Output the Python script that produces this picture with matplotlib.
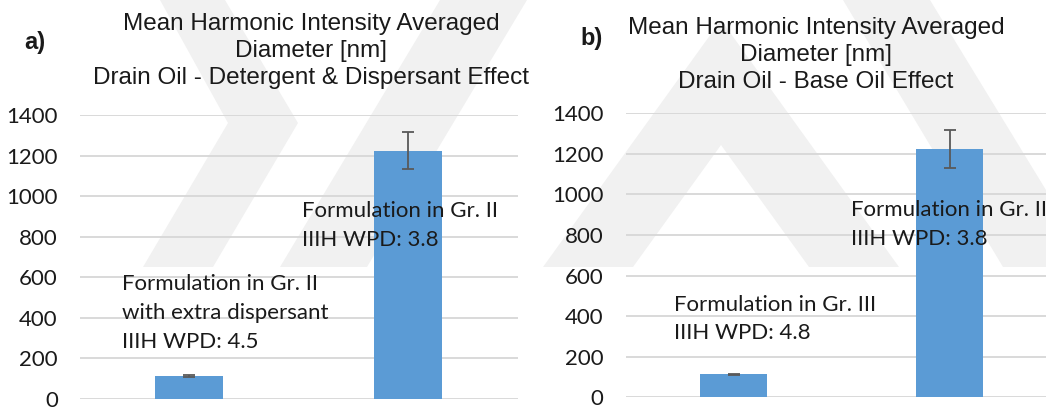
import matplotlib
matplotlib.use("Agg")
import matplotlib.pyplot as plt
from matplotlib.patches import Polygon

# data
categories = ["A", "B"]
left_vals = [115, 1226]
left_err = [5, 93]
right_vals = [113, 1223]
right_err = [4, 94]
left_labels = ["Formulation in Gr. II\nwith extra dispersant\nIIIH WPD: 4.5",
               "Formulation in Gr. II\nIIIH WPD: 3.8"]
right_labels = ["Formulation in Gr. III\nIIIH WPD: 4.8",
                "Formulation in Gr. II\nIIIH WPD: 3.8"]
left_label_pos = [(-0.307, 425), (0.516, 857)]
right_label_pos = [(-0.275, 386), (0.543, 852)]
left_title = "Mean Harmonic Intensity Averaged\nDiameter [nm]\nDrain Oil - Detergent & Dispersant Effect"
right_title = "Mean Harmonic Intensity Averaged\nDiameter [nm]\nDrain Oil - Base Oil Effect"
yticks = [0, 200, 400, 600, 800, 1000, 1200, 1400]

W, H = 1046, 407
fig = plt.figure(figsize=(W / 100, H / 100), dpi=100)

# faint background watermark (pixel coords -> figure fraction)
wm = [
    [(160, 0), (225, 0), (298, 123), (213, 267), (143, 267), (228, 123)],
    [(280, 267), (367, 267), (527, 0), (440, 0)],
    [(543, 267), (633, 267), (721, 145), (809, 267), (899, 267), (721, 20)],
    [(843, 0), (930, 0), (1093, 267), (1003, 267)],
]
for pts in wm:
    fig.patches.append(Polygon([(x / W, 1 - y / H) for x, y in pts], closed=True,
                               transform=fig.transFigure, facecolor="#f1f1f1",
                               edgecolor="none", zorder=-5))

tick_font = "Lato"
txt_col = "#1a1a1a"


def panel(rect, vals, errs, labels, label_pos):
    ax = fig.add_axes(rect)
    ax.patch.set_visible(False)
    x = range(len(categories))
    ax.bar(x, vals, width=0.31, color="#5b9bd5", zorder=3)
    ax.errorbar(x, vals, yerr=errs, fmt="none", ecolor="#595959",
                elinewidth=1.3, capsize=4, capthick=1.3, zorder=4)
    ax.set_xlim(-0.5, 1.5)
    ax.set_ylim(0, 1400)
    ax.set_yticks(yticks)
    ax.set_xticks([])
    ax.yaxis.grid(True, color="#d9d9d9", linewidth=1.4, zorder=1)
    ax.set_axisbelow(True)
    for s in ax.spines.values():
        s.set_visible(False)
    ax.tick_params(axis="y", length=0, pad=16, labelsize=16, labelcolor=txt_col)
    for t in ax.get_yticklabels():
        t.set_fontfamily(tick_font)
    for lab, (lx, ly) in zip(labels, label_pos):
        ax.text(lx, ly, lab, ha="left", va="center", fontsize=16,
                family=tick_font, color=txt_col, linespacing=1.54, zorder=5)
    return ax


panel([80 / W, 0.0197, 437.6 / W, 0.697], left_vals, left_err, left_labels, left_label_pos)
panel([625.5 / W, 0.0238, 432 / W, 0.6978], right_vals, right_err, right_labels, right_label_pos)

fig.text(311 / W, 1 - 51 / H, left_title, ha="center", va="center", fontsize=17.5,
         family="Liberation Sans", color=txt_col, linespacing=1.27)
fig.text(816 / W, 1 - 55 / H, right_title, ha="center", va="center", fontsize=17.5,
         family="Liberation Sans", color=txt_col, linespacing=1.27)
fig.text(35 / W, 1 - 43 / H, "a)", ha="center", va="center", fontsize=17,
         family="Liberation Sans", weight="bold", color=txt_col)
fig.text(592 / W, 1 - 38 / H, "b)", ha="center", va="center", fontsize=17,
         family="Liberation Sans", weight="bold", color=txt_col)

fig.savefig("out.png", dpi=100)
